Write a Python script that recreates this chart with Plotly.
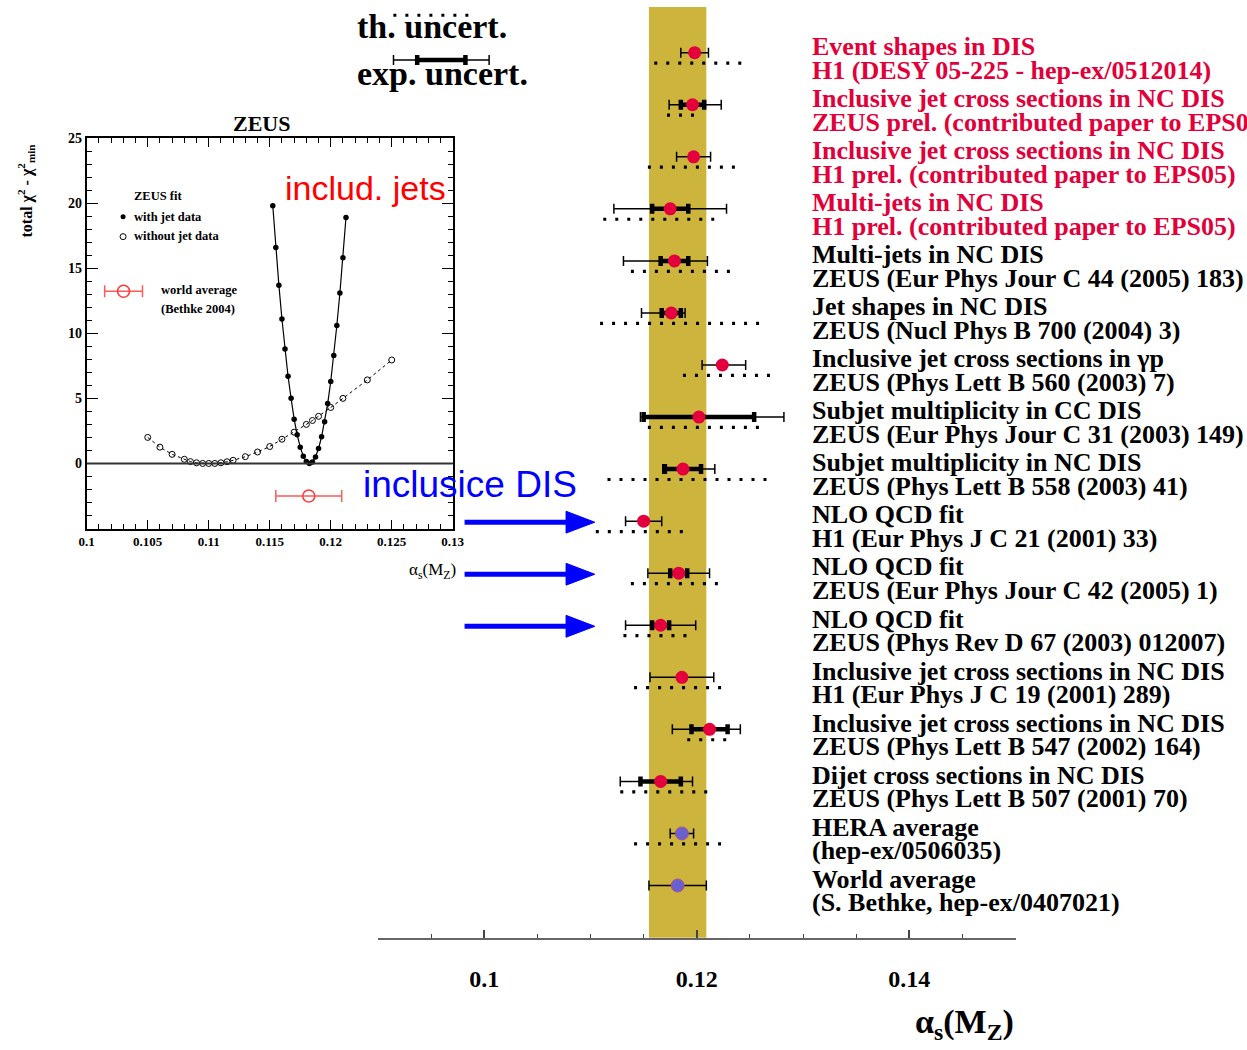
import plotly.graph_objects as go

# ---------------------------------------------------------------
# alpha_s(M_Z) determinations at HERA
# ---------------------------------------------------------------
titles = [
    "Event shapes in DIS",
    "Inclusive jet cross sections in NC DIS",
    "Inclusive jet cross sections in NC DIS",
    "Multi-jets in NC DIS",
    "Multi-jets in NC DIS",
    "Jet shapes in NC DIS",
    "Inclusive jet cross sections in γp",
    "Subjet multiplicity in CC DIS",
    "Subjet multiplicity in NC DIS",
    "NLO QCD fit",
    "NLO QCD fit",
    "NLO QCD fit",
    "Inclusive jet cross sections in NC DIS",
    "Inclusive jet cross sections in NC DIS",
    "Dijet cross sections in NC DIS",
    "HERA average",
    "World average",
]
references = [
    "H1 (DESY 05-225 - hep-ex/0512014)",
    "ZEUS prel. (contributed paper to EPS05)",
    "H1 prel. (contributed paper to EPS05)",
    "H1 prel. (contributed paper to EPS05)",
    "ZEUS (Eur Phys Jour C 44 (2005) 183)",
    "ZEUS (Nucl Phys B 700 (2004) 3)",
    "ZEUS (Phys Lett B 560 (2003) 7)",
    "ZEUS (Eur Phys Jour C 31 (2003) 149)",
    "ZEUS (Phys Lett B 558 (2003) 41)",
    "H1 (Eur Phys J C 21 (2001) 33)",
    "ZEUS (Eur Phys Jour C 42 (2005) 1)",
    "ZEUS (Phys Rev D 67 (2003) 012007)",
    "H1 (Eur Phys J C 19 (2001) 289)",
    "ZEUS (Phys Lett B 547 (2002) 164)",
    "ZEUS (Phys Lett B 507 (2001) 70)",
    "(hep-ex/0506035)",
    "(S. Bethke, hep-ex/0407021)",
]
new_result = [True] * 4 + [False] * 13
is_average = [False] * 15 + [True] * 2

alpha_s = [0.1198, 0.1196, 0.1197, 0.1175, 0.1179, 0.1176, 0.1224, 0.1202, 0.1187,
           0.1150, 0.1183, 0.1166, 0.1186, 0.1212, 0.1166, 0.1186, 0.1182]
exp_minus = [0.0013, 0.0022, 0.0016, 0.0053, 0.0048, 0.0028, 0.0019, 0.0055, 0.0019,
             0.0017, 0.0029, 0.0033, 0.0030, 0.0035, 0.0038, 0.0011, 0.0027]
exp_plus = [0.0013, 0.0027, 0.0016, 0.0053, 0.0031, 0.0013, 0.0022, 0.0080, 0.0030,
            0.0017, 0.0029, 0.0033, 0.0030, 0.0029, 0.0030, 0.0011, 0.0027]
stat_err = [None, 0.0011, None, 0.0017, 0.0013, 0.0009, None, 0.0052, 0.0017,
            None, 0.0008, 0.0008, None, 0.0017, 0.0019, None, None]
th_minus = [0.0038, 0.0024, 0.0043, 0.0063, 0.0041, 0.0067, 0.0037, 0.0048, 0.0071,
            0.0045, 0.0045, 0.0035, 0.0045, 0.0021, 0.0038, 0.0045, None]
th_plus = [0.0050, 0.0009, 0.0045, 0.0047, 0.0058, 0.0086, 0.0051, 0.0062, 0.0082,
           0.0043, 0.0043, 0.0031, 0.0043, 0.0022, 0.0049, 0.0043, None]

x_ticks = [0.1, 0.12, 0.14]
x_ticktext = ["0.1", "0.12", "0.14"]

# ZEUS fit chi2 scans
scan_alpha_jets = [0.11525, 0.1155, 0.11575, 0.116, 0.11625, 0.1165, 0.11675, 0.117,
                   0.11725, 0.1175, 0.11775, 0.118, 0.11825, 0.1185, 0.11875, 0.119,
                   0.11925, 0.1195, 0.11975, 0.12, 0.12025, 0.1205, 0.12075, 0.121,
                   0.12125]
scan_chi2_jets = [19.8, 16.6, 13.7, 11.1, 8.8, 6.7, 5.0, 3.4,
                  2.2, 1.25, 0.55, 0.15, 0.0, 0.12, 0.5, 1.15,
                  2.05, 3.2, 4.6, 6.3, 8.3, 10.6, 13.1, 15.8,
                  18.9]
scan_alpha_nojets = [0.105, 0.106, 0.107, 0.108, 0.1085, 0.109, 0.1095, 0.110, 0.1105,
                     0.111, 0.1115, 0.112, 0.113, 0.114, 0.115, 0.116, 0.117, 0.118,
                     0.1185, 0.119, 0.120, 0.121, 0.123, 0.125]
scan_chi2_nojets = [2.0, 1.25, 0.7, 0.32, 0.14, 0.05, 0.0, 0.0, 0.0,
                    0.05, 0.13, 0.24, 0.52, 0.88, 1.3, 1.86, 2.4, 3.0,
                    3.3, 3.62, 4.3, 5.0, 6.42, 7.95]
inset_world_chi2 = -2.5

inset_xticks = [0.1, 0.105, 0.11, 0.115, 0.12, 0.125, 0.13]
inset_xticktext = ["0.1", "0.105", "0.11", "0.115", "0.12", "0.125", "0.13"]
inset_yticks = [0, 5, 10, 15, 20, 25]

# ---------------------------------------------------------------
# styling
# ---------------------------------------------------------------
SERIF = "Liberation Serif, Times New Roman, serif"
SANS = "Liberation Sans, Arial, sans-serif"
W, H = 1247, 1050
RED_TEXT = "#E2003A"
RED_PT = "#E4003C"
BLUE_PT = "#6A60D0"
BAND = "#CDB43C"

n = len(alpha_s)
rows = list(range(1, n + 1))
TH_OFFSET = 0.2          # dotted theory line sits just below each point
ROW_PX = 52.4            # pixel height of one row
FIRST_ROW_PX = 46.0      # pixel position of the first row
AXIS_PX = 937.0          # pixel position of the main x axis


def px_x(p):
    return p / W


def px_y(p):
    return 1 - p / H


y_top = 1 - FIRST_ROW_PX / ROW_PX
y_bot = 1 + (AXIS_PX - FIRST_ROW_PX) / ROW_PX

fig = go.Figure()

# experimental (total) uncertainty - thin bars
fig.add_trace(go.Scatter(
    x=alpha_s, y=rows, mode="markers",
    marker=dict(size=1, color="rgba(0,0,0,0)"),
    error_x=dict(type="data", symmetric=False, array=exp_plus, arrayminus=exp_minus,
                 color="black", thickness=1.5, width=5),
    hoverinfo="skip", showlegend=False))

# statistical uncertainty - thick bars
sel = [i for i in range(n) if stat_err[i] is not None]
fig.add_trace(go.Scatter(
    x=[alpha_s[i] for i in sel], y=[rows[i] for i in sel], mode="markers",
    marker=dict(size=1, color="rgba(0,0,0,0)"),
    error_x=dict(type="data", array=[stat_err[i] for i in sel],
                 color="black", thickness=4.5, width=5),
    hoverinfo="skip", showlegend=False))

# theoretical uncertainty - dotted lines
tx, ty = [], []
for i in range(n):
    if th_minus[i] is None:
        continue
    tx += [alpha_s[i] - th_minus[i], alpha_s[i] + th_plus[i], None]
    ty += [rows[i] + TH_OFFSET, rows[i] + TH_OFFSET, None]
fig.add_trace(go.Scatter(
    x=tx, y=ty, mode="lines",
    line=dict(color="black", width=3.2, dash="3px,9px"),
    hoverinfo="skip", showlegend=False))

# central values
for avg, col in ((False, RED_PT), (True, BLUE_PT)):
    idx = [i for i in range(n) if is_average[i] == avg]
    fig.add_trace(go.Scatter(
        x=[alpha_s[i] for i in idx], y=[rows[i] for i in idx], mode="markers",
        marker=dict(size=13, color=col,
                    line=dict(width=1 if avg else 0, color="#B0508A")),
        hoverinfo="skip", showlegend=False))

# key for the uncertainty styles (top left)
key_th_y = 1 + (8.3 - FIRST_ROW_PX) / ROW_PX
key_exp_y = 1 + (53.3 - FIRST_ROW_PX) / ROW_PX
key_x0, key_x1 = 0.09145, 0.09917
key_c, key_tot, key_stat = 0.09596, 0.0045, 0.00227
fig.add_trace(go.Scatter(
    x=[key_x0, key_x1], y=[key_th_y, key_th_y], mode="lines",
    line=dict(color="black", width=3.2, dash="3px,9px"),
    hoverinfo="skip", showlegend=False))
fig.add_trace(go.Scatter(
    x=[key_c], y=[key_exp_y], mode="markers",
    marker=dict(size=1, color="rgba(0,0,0,0)"),
    error_x=dict(type="data", array=[key_tot], color="black", thickness=1.5, width=5),
    hoverinfo="skip", showlegend=False))
fig.add_trace(go.Scatter(
    x=[key_c], y=[key_exp_y], mode="markers",
    marker=dict(size=1, color="rgba(0,0,0,0)"),
    error_x=dict(type="data", array=[key_stat], color="black", thickness=4.5, width=5),
    hoverinfo="skip", showlegend=False))

# ---------------------------------------------------------------
# inset: chi2 scans of the ZEUS fit
# ---------------------------------------------------------------
fig.add_trace(go.Scatter(
    x=scan_alpha_nojets, y=scan_chi2_nojets, mode="lines+markers",
    xaxis="x2", yaxis="y2",
    line=dict(color="black", width=1, dash="3px,3px"),
    marker=dict(symbol="circle-open", size=6, color="black", line=dict(width=1)),
    hoverinfo="skip", showlegend=False))
fig.add_trace(go.Scatter(
    x=scan_alpha_jets, y=scan_chi2_jets, mode="lines+markers",
    xaxis="x2", yaxis="y2",
    line=dict(color="black", width=1.2),
    marker=dict(symbol="circle", size=5.5, color="black"),
    hoverinfo="skip", showlegend=False))
fig.add_trace(go.Scatter(
    x=[alpha_s[-1]], y=[inset_world_chi2], mode="markers",
    xaxis="x2", yaxis="y2",
    marker=dict(symbol="circle-open", size=12, color="#FF3C3C", line=dict(width=1.6)),
    error_x=dict(type="data", array=[exp_plus[-1]], color="#FF5A5A",
                 thickness=1.5, width=6),
    hoverinfo="skip", showlegend=False))

# inset key symbols
key2_x = 0.10298
fig.add_trace(go.Scatter(
    x=[key2_x], y=[18.96], mode="markers", xaxis="x2", yaxis="y2",
    marker=dict(symbol="circle", size=5, color="black"),
    hoverinfo="skip", showlegend=False))
fig.add_trace(go.Scatter(
    x=[key2_x], y=[17.43], mode="markers", xaxis="x2", yaxis="y2",
    marker=dict(symbol="circle-open", size=6, color="black", line=dict(width=1)),
    hoverinfo="skip", showlegend=False))
fig.add_trace(go.Scatter(
    x=[0.10302], y=[13.23], mode="markers", xaxis="x2", yaxis="y2",
    marker=dict(symbol="circle-open", size=12, color="#FF3C3C", line=dict(width=1.6)),
    error_x=dict(type="data", array=[0.00155], color="#FF5A5A", thickness=1.5, width=6),
    hoverinfo="skip", showlegend=False))

# ---------------------------------------------------------------
# shapes: world-average band, zero line, arrows
# ---------------------------------------------------------------
shapes = [
    dict(type="rect", xref="x", yref="y domain",
         x0=alpha_s[-1] - exp_minus[-1], x1=alpha_s[-1] + exp_plus[-1], y0=0, y1=1,
         fillcolor=BAND, line=dict(width=0), layer="below"),
    dict(type="line", xref="x2 domain", yref="y2", x0=0, x1=1, y0=0, y1=0,
         line=dict(color="#333333", width=2)),
]
arrow_rows = [10, 11, 12]
arrow_x0, arrow_base, arrow_tip, arrow_half = 0.09815, 0.1077, 0.1104, 0.21
for r in arrow_rows:
    yr = r + 0.02
    shapes.append(dict(type="line", xref="x", yref="y", x0=arrow_x0, x1=arrow_base + 0.0002,
                       y0=yr, y1=yr, line=dict(color="#0000FF", width=5)))
    shapes.append(dict(type="path", xref="x", yref="y",
                       path=f"M {arrow_base} {yr - arrow_half} L {arrow_tip} {yr} "
                            f"L {arrow_base} {yr + arrow_half} Z",
                       fillcolor="#0000FF", line=dict(color="#0000FF", width=1)))

# ---------------------------------------------------------------
# annotations
# ---------------------------------------------------------------
LABEL_X = 0.09 + (815 - 376) / 10800.0
ann = []
for i in range(n):
    col = RED_TEXT if new_result[i] else "black"
    ann.append(dict(x=LABEL_X, y=rows[i] - 0.12, xref="x", yref="y", text=titles[i],
                    xanchor="left", yanchor="middle", showarrow=False,
                    font=dict(family=SERIF, size=26, color=col, weight="bold")))
    ann.append(dict(x=LABEL_X, y=rows[i] + 0.335, xref="x", yref="y", text=references[i],
                    xanchor="left", yanchor="middle", showarrow=False,
                    font=dict(family=SERIF, size=26, color=col, weight="bold")))


def paper_text(xp, yp, text, size, color="black", family=SERIF, weight="bold",
               xanchor="center", angle=0):
    return dict(x=px_x(xp), y=px_y(yp), xref="paper", yref="paper", text=text,
                xanchor=xanchor, yanchor="middle", showarrow=False, textangle=angle,
                font=dict(family=family, size=size, color=color, weight=weight))


ann += [
    paper_text(353, 20, "th. uncert.", 34, xanchor="left"),
    paper_text(353, 67, "exp. uncert.", 34, xanchor="left"),
    paper_text(1024, 1024, "α<sub>s</sub>(M<sub>Z</sub>)", 34, xanchor="right"),
    paper_text(258, 117, "ZEUS", 22),
    paper_text(18, 185, "total χ<sup>2</sup> - χ<sup>2</sup><sub>min</sub>", 16, angle=-90),
    paper_text(126, 190, "ZEUS fit", 12.5, xanchor="left"),
    paper_text(126, 211, "with jet data", 12.5, xanchor="left"),
    paper_text(126, 231, "without jet data", 12.5, xanchor="left"),
    paper_text(153, 285, "world average", 12.5, xanchor="left"),
    paper_text(153, 304, "(Bethke 2004)", 12.5, xanchor="left"),
    paper_text(363, 182, "includ. jets", 34, color="#FF0000", family=SANS, weight="normal"),
    paper_text(470, 481, "inclusice DIS", 37, color="#0000FF", family=SANS, weight="normal"),
    paper_text(431, 568, "α<sub>s</sub>(M<sub>Z</sub>)", 17, weight="normal"),
]

# ---------------------------------------------------------------
# layout
# ---------------------------------------------------------------
fig.update_layout(
    width=W, height=H, autosize=False,
    margin=dict(l=0, r=0, t=0, b=0),
    paper_bgcolor="white", plot_bgcolor="rgba(0,0,0,0)",
    showlegend=False,
    xaxis=dict(
        domain=[px_x(376), px_x(1024)], range=[0.09, 0.15],
        showline=True, linecolor="#666666", linewidth=2,
        showgrid=False, zeroline=False,
        ticks="inside", ticklen=8, tickwidth=1.5, tickcolor="#444444",
        tickvals=x_ticks, ticktext=x_ticktext, ticklabelstandoff=18,
        tickfont=dict(family=SERIF, size=24, color="black", weight="bold"),
        minor=dict(dtick=0.005, tick0=0.09, ticks="inside", ticklen=4,
                   tickwidth=1.2, tickcolor="#444444", showgrid=False),
        anchor="y",
    ),
    yaxis=dict(
        domain=[1 - AXIS_PX / H, 1], range=[y_bot, y_top],
        visible=False, showgrid=False, zeroline=False, anchor="x",
    ),
    xaxis2=dict(
        domain=[px_x(80), px_x(452)], range=[0.1, 0.13], anchor="y2",
        showline=True, linecolor="black", linewidth=1.6, mirror="ticks",
        showgrid=False, zeroline=False,
        ticks="inside", ticklen=9, tickwidth=1.2, tickcolor="black",
        tickvals=inset_xticks, ticktext=inset_xticktext,
        tickfont=dict(family=SERIF, size=13, color="black", weight="bold"),
        minor=dict(dtick=0.001, tick0=0.1, ticks="inside", ticklen=5,
                   tickwidth=1, tickcolor="black", showgrid=False),
    ),
    yaxis2=dict(
        domain=[px_y(525), px_y(132)], range=[-5, 25], anchor="x2",
        showline=True, linecolor="black", linewidth=1.6, mirror="ticks",
        showgrid=False, zeroline=False,
        ticks="inside", ticklen=11, tickwidth=1.2, tickcolor="black",
        tickvals=inset_yticks,
        tickfont=dict(family=SERIF, size=14, color="black", weight="bold"),
        minor=dict(dtick=1, tick0=0, ticks="inside", ticklen=5,
                   tickwidth=1, tickcolor="black", showgrid=False),
    ),
    shapes=shapes,
    annotations=ann,
)

fig.write_html("out.html")
